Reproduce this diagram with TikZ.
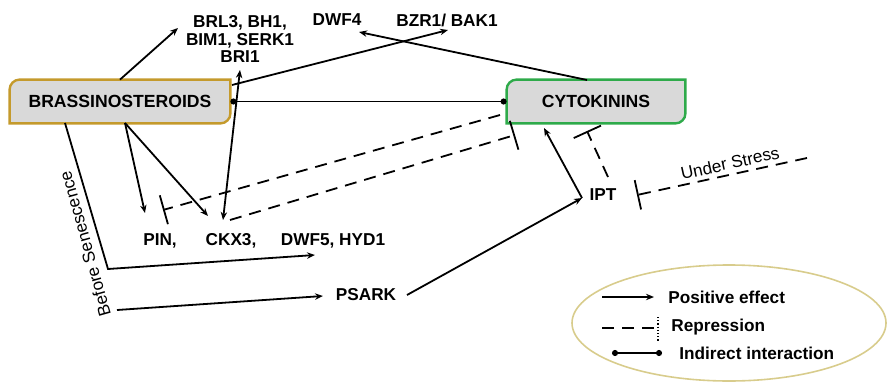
\documentclass[tikz,border=0pt]{standalone}
\usepackage{fontspec}
\setmainfont{Liberation Sans}
\usepackage{xcolor}
\usepackage{tikz}
\usetikzlibrary{arrows.meta,positioning,shapes.geometric,backgrounds}

\definecolor{boxgray}{HTML}{D9D9D9}
\definecolor{brgold}{HTML}{C49A2C}
\definecolor{ckgreen}{HTML}{2EAA4A}
\definecolor{legkhaki}{HTML}{D8CC8C}

\begin{document}
\begin{tikzpicture}[
  x=0.5pt, y=-0.5pt,
  hormone/.style={rectangle, minimum width=#1, minimum height=21.5pt, font=\fontsize{8.8}{10}\selectfont\bfseries},
  gene/.style={inner sep=1pt, align=center, font=\fontsize{8.6}{8.8}\selectfont\bfseries},
  note/.style={inner sep=1pt, font=\fontsize{8.6}{10}\selectfont},
  hframe/.style={line width=1.2pt, fill=boxgray},
  posline/.style={-{Stealth[length=4pt,width=3.2pt]}, line width=0.9pt},
  bothline/.style={{Stealth[length=4pt,width=3.2pt]}-{Stealth[length=4pt,width=3.2pt]}, line width=0.9pt},
  repline/.style={-{Bar[width=15pt]}, line width=0.9pt, dash pattern=on 6pt off 4pt},
  indline/.style={{Circle[length=3pt]}-{Circle[length=3pt]}, line width=0.9pt}
]
\useasboundingbox (0,0) rectangle (887,385);

% hormones
\node[hormone=110pt] (br) at (120,101.5) {BRASSINOSTEROIDS};
\node[hormone=89pt] (ck) at (596,101.5) {CYTOKININS};
\begin{scope}[on background layer]
\draw[hframe, draw=brgold] (br.south west) [rounded corners=5pt] -- (br.north west) [sharp corners] -- (br.north east) [rounded corners=5pt] -- (br.south east) [sharp corners] -- cycle;
\draw[hframe, draw=ckgreen] (ck.south west) [rounded corners=5pt] -- (ck.north west) [sharp corners] -- (ck.north east) [rounded corners=5pt] -- (ck.south east) [sharp corners] -- cycle;
\end{scope}

% genes
\node[gene] (brl) at (240,39) {BRL3, BH1,\\BIM1, SERK1\\BRI1};
\node[gene] (dwf4) at (337,20) {DWF4};
\node[gene] (bzr) at (447,20) {BZR1/ BAK1};
\node[gene] (pin) at (160,241) {PIN,};
\node[gene] (ckx) at (231,241) {CKX3,};
\node[gene] (dwf5) at (333,241) {DWF5, HYD1};
\node[gene] (psark) at (366,295) {PSARK};
\node[gene] (ipt) at (603,195) {IPT};
\node[note, rotate=105.7] (sen) at (85,244) {Before Senescence};
\node[note, rotate=12.5] (stresstxt) at (730,163) {Under Stress};
\coordinate (bend) at (108,269);
\coordinate (senstart) at (117,310);
\coordinate (stress) at (807,158);

% positive effects
\draw[posline] (br.north) -- ([shift={(-62,-11)}]brl.center);
\draw[posline] ([shift={(112,-16.5)}]br.center) -- ([shift={(1,10)}]bzr.center);
\draw[posline] ([shift={(-9,-21.5)}]ck.center) -- ([shift={(22,12)}]dwf4.center);
\draw[bothline] ([shift={(-8,-21)}]ckx.center) -- ([shift={(0,31)}]brl.center);
\draw[posline] ([shift={(5,21.5)}]br.center) -- ([shift={(-15,-28)}]pin.center);
\draw[posline] ([shift={(5,21.5)}]br.center) -- ([shift={(-23,-25)}]ckx.center);
\draw[posline] ([shift={(-55,21.5)}]br.center) -- (bend) -- ([shift={(-18,14)}]dwf5.center);
\draw[posline] (senstart) -- ([shift={(-43,1)}]psark.center);
\draw[posline] ([shift={(41,0)}]psark.center) -- ([shift={(-21,3)}]ipt.center);
\draw[posline] ([shift={(-21,3)}]ipt.center) -- ([shift={(-52,26.5)}]ck.center);

% indirect interaction
\draw[indline] (br.east) -- (ck.west);

% repression
\draw[repline] ([shift={(-96,13.5)}]ck.center) -- ([shift={(3,-31)}]pin.center);
\draw[repline] ([shift={(-1,-21)}]ckx.center) -- ([shift={(-81,33.5)}]ck.center);
\draw[repline] ([shift={(5,-18)}]ipt.center) -- ([shift={(-9,29.5)}]ck.center);
\draw[repline] (stress) -- ([shift={(34,0)}]ipt.center);

% legend
\node[ellipse, draw=legkhaki, line width=0.8pt, minimum width=157pt, minimum height=58pt] (legend) at (729,323) {};
\node[gene, anchor=west] (postxt) at (666,297) {Positive effect};
\node[gene, anchor=west] (reptxt) at (669,327) {Repression};
\node[gene, anchor=west] (indtxt) at (677,353) {Indirect interaction};
\draw[posline] ([shift={(-64,0)}]postxt.west) -- ([shift={(-12,0)}]postxt.west);
\draw[line width=0.9pt, dash pattern=on 6pt off 4pt] ([shift={(-67,1)}]reptxt.west) -- ([shift={(-15,1)}]reptxt.west);
\draw[line width=0.6pt, densely dotted] ([shift={(-11,-10)}]reptxt.west) -- ([shift={(-11,15)}]reptxt.west);
\draw[indline] ([shift={(-65,0)}]indtxt.west) -- ([shift={(-15,0)}]indtxt.west);
\end{tikzpicture}
\end{document}
